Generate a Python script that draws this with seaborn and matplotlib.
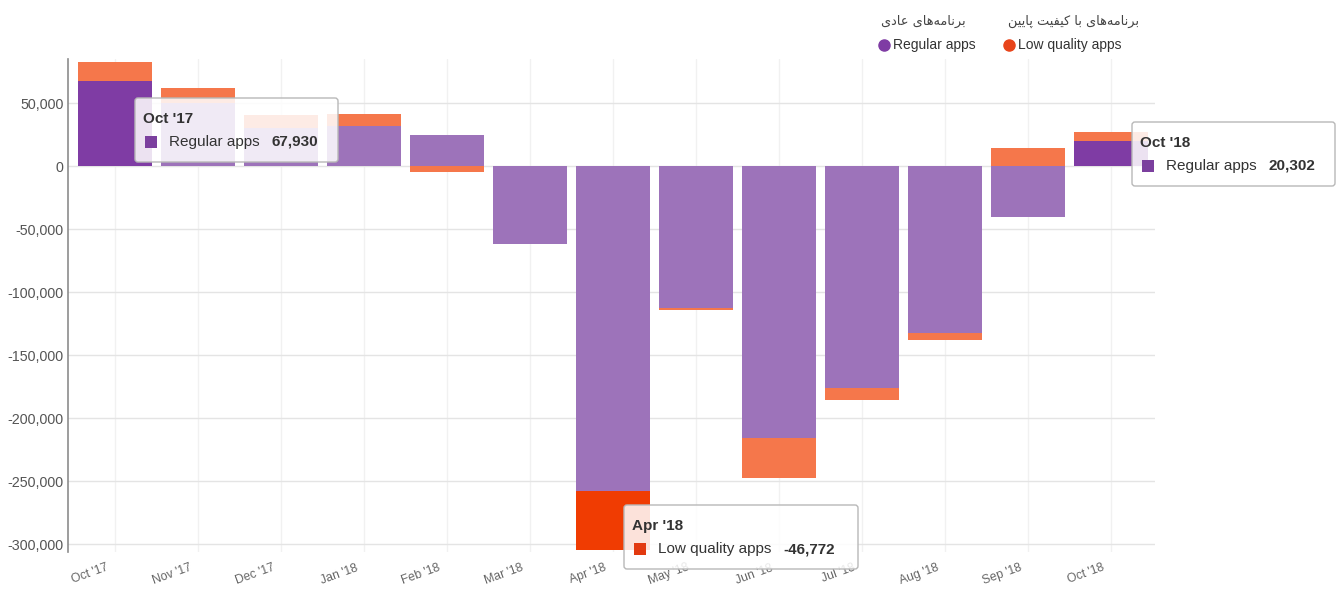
import matplotlib
matplotlib.use("Agg")
import matplotlib.pyplot as plt
import matplotlib.transforms as mtransforms
from matplotlib.patches import FancyBboxPatch, Rectangle
from matplotlib.lines import Line2D
from matplotlib.ticker import FuncFormatter, MultipleLocator
import seaborn as sns
import pandas as pd

# --- Data ---
months = ["Oct '17", "Nov '17", "Dec '17", "Jan '18", "Feb '18", "Mar '18", "Apr '18",
          "May '18", "Jun '18", "Jul '18", "Aug '18", "Sep '18", "Oct '18"]
regular = [67930, 50000, 30000, 31600, 25000, -61500, -257800,
           -112500, -215700, -176000, -132400, -40300, 20302]
low_quality = [14800, 12000, 10800, 9800, -4600, -500, -46772,
               -1800, -31800, -9800, -5300, 14400, 6800]

series_names = ["Regular apps", "Low quality apps"]
# Persian legend titles, pre-shaped (presentation forms, visual order) since
# matplotlib has no Arabic shaping: "برنامه‌های عادی" / "برنامه‌های با کیفیت پایین"
fa_barnameha = "\uFEEF\uFE8E\uFEEB\uFEEA\uFEE3\uFE8E\uFEE7\uFEAE\uFE91"
fa_adi = "\uFEEF\uFEA9\uFE8E\uFECB"
fa_ba = "\uFE8E\uFE91"
fa_keyfiat = "\uFE96\uFEF4\uFED4\uFEF4\uFEDB"
fa_paiin = "\uFEE6\uFEF4\uFEF3\uFE8E\uFB58"
legend_fa = [fa_adi + " " + fa_barnameha,
             fa_paiin + " " + fa_keyfiat + " " + fa_ba + " " + fa_barnameha]

# bars shown in hover state in the screenshot
hover_regular = ["Oct '17", "Oct '18"]
hover_low = ["Apr '18"]

PURPLE = "#9d73ba"
PURPLE_HOVER = "#7f3ca4"
ORANGE = "#f5774b"
ORANGE_HOVER = "#f03c02"

W, H = 1343, 590

sns.set_theme(style="white")
plt.rcParams['font.family'] = ['Liberation Sans', 'DejaVu Sans']

df = pd.DataFrame({"month": months, "regular": regular, "low": low_quality})
# stacking like Highcharts: positive parts go up from 0, negative parts go down
same_sign = (df["regular"] * df["low"]) > 0
df["outer"] = df["low"].where(~same_sign, df["regular"] + df["low"])

reg_colors = {m: (PURPLE_HOVER if m in hover_regular else PURPLE) for m in months}
low_colors = {m: (ORANGE_HOVER if m in hover_low else ORANGE) for m in months}

fig = plt.figure(figsize=(W / 100, H / 100), dpi=100)
ax = fig.add_axes([68 / W, 1 - 552 / H, (1155 - 68) / W, (552 - 59) / H])

sns.barplot(data=df, x="month", y="outer", hue="month", palette=low_colors,
            width=0.89, saturation=1, errorbar=None, legend=False,
            linewidth=0, ax=ax)
sns.barplot(data=df, x="month", y="regular", hue="month", palette=reg_colors,
            width=0.89, saturation=1, errorbar=None, legend=False,
            linewidth=0, ax=ax)

ax.set_xlim(-0.57, len(months) - 0.47)
ax.set_ylim(-306000, 85000)
ax.yaxis.set_major_locator(MultipleLocator(50000))
ax.yaxis.set_major_formatter(FuncFormatter(lambda v, p: f"{int(v):,}"))
ax.set_xlabel("")
ax.set_ylabel("")
ax.set_axisbelow(True)
ax.grid(axis="y", color="#e4e4e4", lw=1)
ax.grid(axis="x", color="#f1f1f1", lw=1)
for s in ["top", "right", "bottom"]:
    ax.spines[s].set_visible(False)
ax.spines["left"].set_color("#8c8c8c")
ax.spines["left"].set_linewidth(1.2)
ax.tick_params(axis="y", length=0, pad=3, labelsize=10.3, labelcolor="#555555")
ax.tick_params(axis="x", length=0, pad=7, labelsize=8.8, labelcolor="#666666")

shift = mtransforms.ScaledTranslation(-0.09, 0, fig.dpi_scale_trans)
for lbl in ax.get_xticklabels():
    lbl.set_rotation(20)
    lbl.set_ha("right")
    lbl.set_va("top")
    lbl.set_rotation_mode("anchor")
    lbl.set_transform(lbl.get_transform() + shift)

# --- Legend (top right) ---
def fx(x):
    return x / W


def fy(y):
    return 1 - y / H


legend_items = [(884, 923, PURPLE_HOVER), (1009, 1074, "#e8441a")]
for (cx, fa_x, col), name, fa in zip(legend_items, series_names, legend_fa):
    fig.add_artist(Line2D([fx(cx)], [fy(45)], marker="o", ms=8, color=col,
                          lw=0, transform=fig.transFigure))
    fig.text(fx(cx + 9), fy(45), name, fontsize=10, color="#333333",
             va="center", ha="left")
    fig.text(fx(fa_x), fy(21), fa, fontsize=9.3, color="#444444",
             va="center", ha="center", family=["DejaVu Sans"])


# --- Tooltips ---
renderer = fig.canvas.get_renderer()


def tooltip(left, top, width, title, label, value, color):
    h = 64
    box = FancyBboxPatch((fx(left), fy(top + h)), width / W, h / H,
                         boxstyle="round,pad=0,rounding_size=%f" % (3 / W),
                         mutation_aspect=W / H, transform=fig.transFigure,
                         fc=(1, 1, 1, 0.86), ec="#b8b8b8", lw=1, zorder=10)
    fig.add_artist(box)
    fig.text(fx(left + 8), fy(top + 21), title, fontsize=11, weight="bold",
             color="#333333", va="center", zorder=11)
    fig.add_artist(Rectangle((fx(left + 10), fy(top + 50)), 12 / W, 12 / H,
                             transform=fig.transFigure, fc=color, ec="none",
                             zorder=11))
    t = fig.text(fx(left + 34), fy(top + 44), label, fontsize=11,
                 color="#333333", va="center", zorder=11)
    bb = t.get_window_extent(renderer)
    fig.text(bb.x1 / W + 12 / W, fy(top + 44), f"{value:,}", fontsize=11,
             weight="bold", color="#333333", va="center", zorder=11)


i17, i18, iapr = months.index("Oct '17"), months.index("Oct '18"), months.index("Apr '18")
tooltip(135, 98, 203, months[i17], series_names[0], regular[i17], "#7b3f9e")
tooltip(1132, 122, 203, months[i18], series_names[0], regular[i18], "#7b3f9e")
tooltip(624, 505, 234, months[iapr], series_names[1], low_quality[iapr], "#e23a10")

fig.savefig("out.png", dpi=100)
